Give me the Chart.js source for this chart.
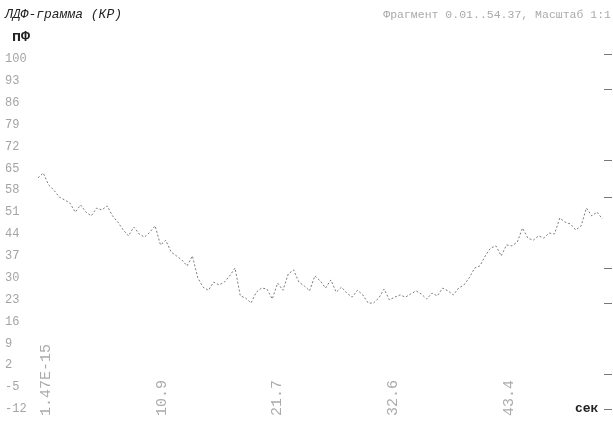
<!DOCTYPE html>
<html>
<head>
<meta charset="utf-8">
<script src="https://cdn.jsdelivr.net/npm/chart.js@4/dist/chart.umd.min.js"></script>
<style>
  html, body { margin: 0; padding: 0; background: #fff; }
  #wrap { width: 613px; height: 421px; position: relative; }
</style>
</head>
<body>
<div id="wrap"><canvas id="c"></canvas></div>
<script>
// Laser Doppler flowmetry trace: time (s) and signal (pF)
const seconds = [
  0, 0.5, 1, 1.5, 2, 2.5, 3, 3.5, 4, 4.5, 5, 5.5, 6, 6.5, 7, 7.5, 8, 8.5, 9, 9.5,
  10, 10.5, 11, 11.5, 12, 12.5, 13, 13.5, 14, 14.5, 15, 15.5, 16, 16.5, 17, 17.5, 18, 18.5, 19, 19.5,
  20, 20.5, 21, 21.5, 22, 22.5, 23, 23.5, 24, 24.5, 25, 25.5, 26, 26.5, 27, 27.5, 28, 28.5, 29, 29.5,
  30, 30.5, 31, 31.5, 32, 32.5, 33, 33.5, 34, 34.5, 35, 35.5, 36, 36.5, 37, 37.5, 38, 38.5, 39, 39.5,
  40, 40.5, 41, 41.5, 42, 42.5, 43, 43.5, 44, 44.5, 45, 45.5, 46, 46.5, 47, 47.5, 48, 48.5, 49, 49.5,
  50, 50.5, 51, 51.5, 52, 52.5, 53
];
const flux = [
  62, 63.5, 59.7, 58, 55.8, 54.9, 53.9, 51, 53.3, 51, 49.8, 52.3, 51.7, 53, 49.8, 47.8, 45.3, 43.4, 46.2, 44,
  43, 44.6, 46.6, 40.5, 42, 38.2, 37, 35.7, 33.8, 37, 30, 27, 26, 28.6, 27.7, 28.6, 30.6, 33.1, 24.2, 23.5,
  21.9, 25.4, 26.7, 26.4, 23.2, 28.3, 26, 31.2, 32.5, 28.6, 27.4, 25.8, 30.6, 29, 26.7, 29.3, 25.4, 27, 25.1, 23.8,
  26, 24.5, 21.9, 21.9, 23.5, 26.4, 22.9, 23.8, 24.5, 23.8, 24.8, 25.8, 24.8, 23.2, 25.1, 24.2, 26.7, 25.8, 24.5, 26.7,
  27.7, 30, 33.1, 33.8, 37, 39.5, 40.2, 37, 40.5, 40.2, 41.4, 45.9, 42.7, 42, 43.4, 42.7, 44.3, 44, 49.1, 47.8,
  47.2, 45.3, 46.6, 52.3, 49.8, 51, 48.8
];

// Axis ticks
const yTickValues = [100, 93, 86, 79, 72, 65, 58, 51, 44, 37, 30, 23, 16, 9, 2, -5, -12];
const rightTickValues = [101.6, 90.1, 67.4, 55.8, 33.1, 21.9, -1.1, -12];
const xTickValues = [0, 10.86, 21.72, 32.58, 43.44];
const xTickLabels = ['1.47E-15', '10.9', '21.7', '32.6', '43.4'];

const titleText = 'ЛДФ-грамма (КР)';
const fragmentText = 'Фрагмент 0.01..54.37, Масштаб 1:1';
const yUnit = 'пФ';
const xUnit = 'сек';

const MONO = '"Liberation Mono", "DejaVu Sans Mono", monospace';

const labelPlugin = {
  id: 'captions',
  afterDraw(chart) {
    const ctx = chart.ctx;
    const area = chart.chartArea;
    ctx.save();
    ctx.textBaseline = 'middle';
    ctx.textAlign = 'left';
    ctx.fillStyle = '#222';
    ctx.font = 'italic 13px ' + MONO;
    ctx.fillText(titleText, 5, 15);
    ctx.font = 'bold 15px ' + MONO;
    ctx.fillText(yUnit, 12, 37);
    ctx.font = 'bold 13px ' + MONO;
    ctx.fillText(xUnit, area.right - 29, area.bottom);
    ctx.textAlign = 'right';
    ctx.fillStyle = '#aaa';
    ctx.font = '11.5px ' + MONO;
    ctx.fillText(fragmentText, 611, 15);
    ctx.restore();
  }
};

const points = seconds.map((t, i) => ({ x: t, y: flux[i] }));
const labelLen = Math.max(...xTickLabels.map(s => s.length));

new Chart(document.getElementById('c'), {
  type: 'line',
  data: {
    datasets: [{
      data: points,
      borderColor: '#7a7a7a',
      borderWidth: 1,
      borderDash: [2, 2],
      pointRadius: 0,
      tension: 0,
      fill: false
    }]
  },
  options: {
    responsive: true,
    maintainAspectRatio: false,
    animation: false,
    events: [],
    layout: { padding: { top: 54, left: 5, right: 0, bottom: 0 } },
    plugins: { legend: { display: false }, tooltip: { enabled: false } },
    scales: {
      x: {
        type: 'linear',
        min: 0,
        max: 53.15,
        afterBuildTicks(scale) { scale.ticks = xTickValues.map(v => ({ value: v })); },
        afterFit(scale) {
          scale.height = 12;
          scale.paddingLeft = 0;
          scale.paddingRight = 0;
        },
        grid: { display: false, drawTicks: false },
        border: { display: false },
        ticks: {
          autoSkip: false,
          minRotation: 90,
          maxRotation: 90,
          mirror: true,
          padding: 65,
          labelOffset: 26,
          color: '#ababab',
          font: { family: MONO, size: 15 },
          callback: (v, i) => xTickLabels[i].padEnd(labelLen, ' ')
        }
      },
      y: {
        min: -12,
        max: 101.6,
        afterBuildTicks(scale) { scale.ticks = yTickValues.map(v => ({ value: v })); },
        afterFit(scale) { scale.width = 33; },
        grid: { display: false, drawTicks: false },
        border: { display: false },
        ticks: {
          autoSkip: false,
          crossAlign: 'far',
          padding: 0,
          color: '#a4a4a4',
          font: { family: MONO, size: 12 },
          callback: (v, i) => String(yTickValues[i])
        }
      },
      yRight: {
        position: 'right',
        min: -12,
        max: 101.6,
        afterBuildTicks(scale) { scale.ticks = rightTickValues.map(v => ({ value: v })); },
        afterFit(scale) { scale.width = 9; },
        grid: { display: true, drawOnChartArea: false, drawTicks: true, tickLength: 8, color: '#777', lineWidth: 1 },
        border: { display: false },
        ticks: { display: true, padding: 0, callback: () => '' }
      }
    }
  },
  plugins: [labelPlugin]
});
</script>
</body>
</html>
